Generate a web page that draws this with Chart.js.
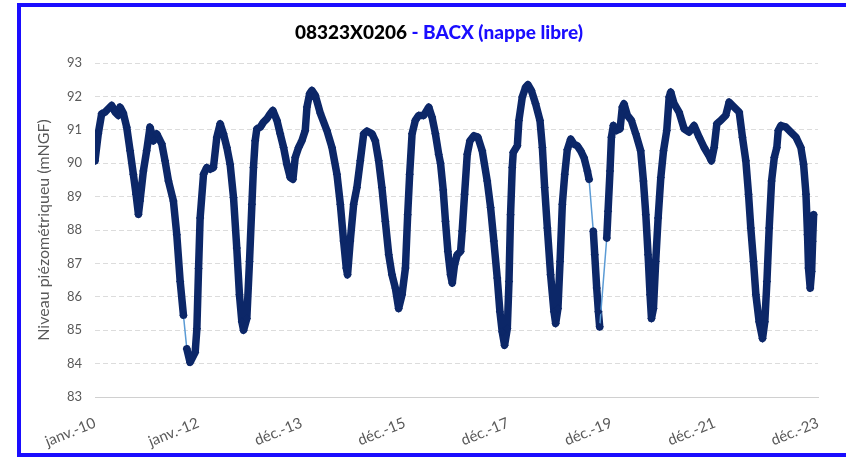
<!DOCTYPE html>
<html lang="fr">
<head>
<meta charset="utf-8">
<title>08323X0206 - BACX (nappe libre)</title>
<script src="https://cdn.jsdelivr.net/npm/chart.js@4.4.1/dist/chart.umd.min.js"></script>
<style>
  html, body { margin: 0; padding: 0; background: #fff; }
  #wrap { position: relative; width: 846px; height: 457px; overflow: hidden; background: #fff; }
  #chart { position: absolute; left: 0; top: 0; }
  #frame {
    position: absolute; left: 17px; top: 3px; width: 900px; height: 454px;
    border: 4px solid #1a0dff; box-sizing: border-box; pointer-events: none;
  }
  #title {
    position: absolute; left: 0; top: 20px; width: 878px; text-align: center;
    font-family: Lato, 'Noto Sans', sans-serif; font-weight: 900; font-size: 19px;
    white-space: nowrap; color: #000;
  }
  #title .sub { color: #1a0dff; }
</style>
</head>
<body>
<div id="wrap">
  <canvas id="chart" width="846" height="457"></canvas>
  <div id="title">08323X0206 <span class="sub">- BACX (nappe libre)</span></div>
  <div id="frame"></div>
</div>
<script>
// Jours écoulés depuis le 1er janvier 2010
const dayOffsets = [
  0, 23, 47, 71, 94, 118, 142, 165, 177, 200, 224, 248, 271, 290, 307, 318, 342, 365, 389, 413,
  436, 472, 495, 519, 554, 578, 602, 625, 649, 672, 708, 720, 732, 743, 767, 790, 814, 837, 861, 885,
  908, 932, 955, 979, 1002, 1021, 1038, 1050, 1073, 1092, 1109, 1120, 1132, 1144, 1168, 1191, 1215, 1238, 1257, 1286,
  1309, 1333, 1356, 1380, 1399, 1415, 1439, 1462, 1486, 1498, 1517, 1533, 1557, 1592, 1639, 1675, 1710, 1734, 1757, 1776,
  1785, 1804, 1828, 1851, 1875, 1899, 1922, 1958, 1981, 2005, 2028, 2052, 2076, 2099, 2123, 2146, 2170, 2194, 2210, 2224,
  2241, 2264, 2288, 2323, 2359, 2382, 2406, 2429, 2442, 2461, 2477, 2494, 2513, 2525, 2541, 2560, 2584, 2595, 2612, 2631,
  2650, 2678, 2706, 2737, 2772, 2796, 2819, 2843, 2862, 2878, 2895, 2914, 2926, 2937, 2949, 2956, 2985, 2996, 3020, 3044,
  3060, 3084, 3114, 3145, 3162, 3178, 3197, 3220, 3244, 3256, 3272, 3287, 3303, 3320, 3338, 3362, 3385, 3409, 3433, 3456,
  3480, 3492, 3522, 3532, 3546, 3558, 3567, 3617, 3626, 3640, 3650, 3664, 3687, 3711, 3727, 3739, 3763, 3791, 3822, 3857,
  3876, 3893, 3909, 3923, 3933, 3947, 3963, 3980, 3999, 4018, 4041, 4058, 4069, 4093, 4128, 4164, 4199, 4234, 4270, 4305,
  4340, 4357, 4376, 4395, 4423, 4458, 4482, 4517, 4553, 4576, 4600, 4619, 4635, 4654, 4671, 4694, 4718, 4734, 4749, 4765,
  4782, 4801, 4819, 4829, 4848, 4883, 4918, 4954, 4989, 5008, 5025, 5036, 5043, 5055, 5065, 5072, 5079
];

// Niveau piézométrique (mNGF)
const levels = [
  90.07, 90.88, 91.48, 91.53, 91.63, 91.73, 91.53, 91.43, 91.68, 91.50, 91.08, 90.37, 89.67, 89.07, 88.47, 88.87, 89.77, 90.37, 91.08, 90.67,
  90.88, 90.58, 90.07, 89.47, 88.87, 87.86, 86.46, 85.45, 84.44, 84.04, 84.34, 85.04, 86.85, 88.36, 89.67, 89.87, 89.82, 89.87, 90.78, 91.18,
  90.88, 90.47, 89.97, 88.97, 87.46, 86.06, 85.25, 85.00, 85.35, 87.06, 88.77, 89.87, 90.67, 91.03, 91.08, 91.23, 91.33, 91.48, 91.58, 91.28,
  90.88, 90.47, 89.97, 89.57, 89.52, 90.17, 90.47, 90.67, 90.98, 91.68, 92.08, 92.18, 92.03, 91.50, 90.98, 90.47, 89.67, 88.77, 87.67, 86.86,
  86.66, 87.67, 88.77, 89.27, 90.07, 90.88, 90.96, 90.88, 90.67, 90.07, 89.27, 88.26, 87.26, 86.66, 86.26, 85.65, 86.06, 86.86, 88.46, 89.67,
  90.88, 91.28, 91.43, 91.43, 91.68, 91.38, 90.88, 90.27, 90.00, 89.20, 88.26, 87.36, 86.66, 86.41, 86.96, 87.26, 87.36, 87.96, 89.07, 90.27,
  90.67, 90.82, 90.78, 90.37, 89.47, 88.67, 87.67, 86.56, 85.55, 84.95, 84.55, 85.05, 86.46, 88.46, 89.87, 90.32, 90.52, 91.28, 91.98, 92.28,
  92.35, 92.18, 91.78, 91.28, 90.47, 89.27, 88.06, 86.66, 85.55, 85.20, 85.65, 87.06, 88.77, 89.67, 90.40, 90.72, 90.57, 90.52, 90.37, 90.17,
  89.77, 89.52, 87.96, 87.26, 86.26, 85.55, 85.10, 87.76, 88.56, 89.77, 90.78, 91.13, 90.98, 91.03, 91.68, 91.78, 91.43, 91.28, 90.88, 90.37,
  89.47, 88.46, 87.26, 86.06, 85.35, 85.65, 87.06, 88.36, 89.57, 90.37, 90.98, 91.98, 92.13, 91.78, 91.53, 91.03, 90.93, 91.13, 90.78, 90.47,
  90.22, 90.07, 90.47, 91.18, 91.28, 91.43, 91.83, 91.68, 91.53, 90.78, 90.07, 89.07, 88.06, 87.06, 86.06, 85.25, 84.75, 85.25, 86.46, 88.06,
  89.47, 90.17, 90.47, 90.98, 91.13, 91.08, 90.93, 90.78, 90.47, 89.97, 89.07, 87.86, 86.86, 86.26, 86.76, 87.66, 88.46
];

// Début des périodes sans mesure (reliées par le trait clair)
const gapStarts = [625, 3492, 3567];

const tickDays = [0, 730, 1460, 2190, 2920, 3650, 4380, 5110];
const tickLabels = ['janv.-10', 'janv.-12', 'déc.-13', 'déc.-15', 'déc.-17', 'déc.-19', 'déc.-21', 'déc.-23'];

Chart.defaults.font.family = "Lato, 'Noto Sans', sans-serif";
Chart.defaults.color = '#595959';

const navy = '#0c2768';
const lightBlue = '#5b9bd5';

const isGap = ctx => gapStarts.includes(ctx.p0.parsed.x);

new Chart(document.getElementById('chart'), {
  type: 'line',
  data: {
    datasets: [{
      label: 'Niveau',
      data: dayOffsets.map((d, i) => ({ x: d, y: levels[i] })),
      borderColor: navy,
      borderWidth: 7.5,
      borderJoinStyle: 'round',
      borderCapStyle: 'round',
      tension: 0,
      pointStyle: 'rectRot',
      pointRadius: 4.2,
      pointBackgroundColor: navy,
      pointBorderWidth: 0,
      segment: {
        borderColor: ctx => isGap(ctx) ? lightBlue : undefined,
        borderWidth: ctx => isGap(ctx) ? 1.5 : undefined
      }
    }]
  },
  options: {
    responsive: false,
    animation: false,
    devicePixelRatio: 1,
    layout: { padding: { left: 34, right: 28, top: 63, bottom: 0 } },
    plugins: {
      legend: { display: false },
      tooltip: { enabled: false }
    },
    scales: {
      x: {
        type: 'linear',
        min: 0,
        max: 5110,
        afterBuildTicks: scale => { scale.ticks = tickDays.map(v => ({ value: v })); },
        afterFit: scale => { scale.height = 60; },
        ticks: {
          autoSkip: false,
          minRotation: 22,
          maxRotation: 22,
          padding: 9,
          font: { size: 15 },
          callback: v => tickLabels[tickDays.indexOf(v)] || ''
        },
        grid: { display: false },
        border: { display: true, color: '#d0d0d0', width: 1 }
      },
      y: {
        min: 83,
        max: 93,
        afterFit: scale => { scale.width = 61; },
        ticks: { stepSize: 1, padding: 13, font: { size: 13 } },
        grid: { color: '#dcdcdc', drawTicks: false },
        border: { display: false, dash: [5, 3] },
        title: {
          display: true,
          text: 'Niveau piézométriqueu (mNGF)',
          color: '#595959',
          font: { size: 16 },
          padding: 0
        }
      }
    }
  }
});
</script>
</body>
</html>
